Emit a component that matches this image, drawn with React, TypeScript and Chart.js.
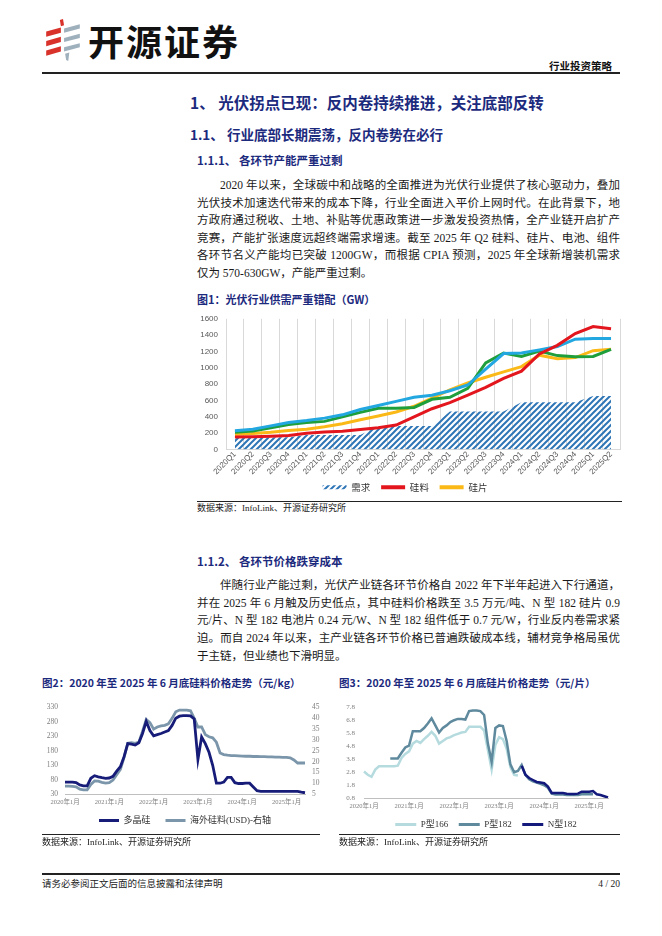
import React, { useEffect, useRef } from 'react';
import { Chart, registerables } from 'chart.js';

Chart.register(...registerables);

const SERIF = "'Liberation Serif','Noto Sans CJK SC',serif";
const CJK = "'Noto Sans CJK SC','Liberation Sans',sans-serif";
const SANS = "'Liberation Sans','Noto Sans CJK SC',sans-serif";
const NAVY = '#1c2a7e';

// ---------- Figure 1 data (GW) ----------
const quarters = [
  '2020Q1', '2020Q2', '2020Q3', '2020Q4', '2021Q1', '2021Q2', '2021Q3', '2021Q4',
  '2022Q1', '2022Q2', '2022Q3', '2022Q4', '2023Q1', '2023Q2', '2023Q3', '2023Q4',
  '2024Q1', '2024Q2', '2024Q3', '2024Q4', '2025Q1', '2025Q2',
];
const demand = [150, 150, 150, 150, 178, 178, 178, 178, 290, 290, 290, 290, 465, 465, 465, 465, 580, 580, 580, 580, 655, 655];
const polysilicon = [155, 157, 163, 172, 200, 215, 225, 245, 268, 300, 400, 500, 575, 665, 760, 870, 960, 1170, 1275, 1420, 1505, 1478];
const wafer = [185, 198, 212, 232, 250, 280, 315, 365, 410, 460, 530, 630, 730, 815, 885, 950, 1015, 1155, 1112, 1125, 1210, 1228];
const cell = [212, 228, 268, 308, 330, 345, 400, 455, 505, 505, 515, 615, 640, 750, 1060, 1182, 1140, 1205, 1150, 1135, 1140, 1225];
const moduleCap = [230, 250, 290, 330, 355, 385, 425, 490, 540, 590, 640, 665, 720, 790, 985, 1175, 1182, 1220, 1260, 1350, 1358, 1358];
const yTicks1 = { min: 0, max: 1600, step: 200 };

// ---------- Month categories for figures 2 & 3 ----------
const monthLabels: string[] = [];
for (let y = 2020; y <= 2025; y++) {
  for (let m = 1; m <= 12; m++) {
    if (y === 2025 && m > 6) break;
    monthLabels.push(`${y}年${m}月`);
  }
}

// ---------- Figure 2 data ----------
const polyPrice = [
  72, 72, 72, 70, 62, 59, 59, 85, 94, 90, 87, 85,
  86, 92, 110, 125, 160, 205, 203, 200, 208, 240, 282, 250,
  232, 236, 240, 245, 250, 268, 293, 300, 302, 302, 301, 290,
  150, 228, 205, 175, 130, 68, 68, 72, 88, 88, 70, 67,
  67, 68, 68, 55, 42, 40, 40, 40, 40, 40, 40, 40,
  40, 40, 40, 40, 37, 35,
];
const overseasPrice = [
  8.7, 8.7, 8.6, 8.4, 7.3, 7.0, 7.0, 9.5, 11.1, 11.0, 10.5, 10.1,
  10.3, 11.5, 14.0, 16.5, 22.0, 28.5, 28.8, 28.5, 29.0, 34.0, 39.5, 38.0,
  35.0, 36.0, 36.5, 36.8, 37.5, 40.0, 43.0, 43.8, 43.8, 43.8, 43.5, 40.0,
  36.0, 36.0, 32.5, 31.5, 31.0, 29.0, 24.0, 23.3, 23.0, 22.8, 22.8, 22.7,
  22.6, 22.5, 22.5, 22.4, 22.4, 22.3, 22.3, 22.2, 22.2, 22.1, 22.1, 22.0,
  22.0, 21.8, 20.8, 19.4, 19.4, 19.4,
];
const yTicks2L = { min: 30, max: 330, step: 50 };
const yTicks2R = { min: 5, max: 45, step: 5 };

// ---------- Figure 3 data ----------
const N = null;
const p166 = [
  2.85, 2.6, 2.45, 3.0, 3.25, 3.25, 3.25, 3.25, 3.25, 3.3, 3.9, 4.2,
  4.4, 5.0, 5.2, 5.05, 5.35, 5.6, 5.9, 5.6, 5.0, 5.2, 5.4, 5.5,
  5.65, 5.75, 5.85, 5.9, 6.3, 6.3, 6.3, 6.3, 6.0, 4.5, 3.0, 4.9,
  5.5, 5.35, 4.6, 3.2, 2.6, 2.55, N, N, N, N, N, N,
  N, N, N, N, N, N, N, N, N, N, N, N,
  N, N, N, N, N, N,
];
const p182 = [
  N, N, N, N, N, N, N, 3.85, 3.85, 3.85, 4.3, 4.7,
  4.85, 5.95, 5.95, 5.95, 6.2, 6.55, 6.95, 6.4, 5.85, 6.2, 6.4, 6.65,
  6.8, 6.9, 6.9, 6.85, 7.5, 7.55, 7.55, 7.5, 7.2, 5.0, 3.6, 6.2,
  6.4, 6.35, 5.2, 3.4, 2.8, 2.9, 3.35, 2.6, 2.25, 2.1, 2.0, 1.9,
  1.8, 1.6, 1.15, 1.08, 1.08, 1.08, 1.05, 1.05, 1.05, 1.05, 1.1, 1.1,
  1.1, 1.1, N, N, N, N,
];
const n182 = [
  N, N, N, N, N, N, N, N, N, N, N, N,
  N, N, N, N, N, N, N, N, N, N, N, N,
  N, N, N, N, N, N, N, N, N, N, N, N,
  N, N, N, N, N, N, 3.3, 2.6, 2.35, 2.2, 2.05, 2.0,
  1.95, 1.7, 1.2, 1.2, 1.2, 1.2, 1.15, 1.12, 1.12, 1.15, 1.3, 1.3,
  1.3, 1.35, 1.1, 1.05, 0.95, 0.85,
];
const yTicks3 = { min: 0.8, max: 7.8, step: 1 };

// ---------- Text ----------
const para1 = [
  '2020 年以来，全球碳中和战略的全面推进为光伏行业提供了核心驱动力，叠加',
  '光伏技术加速迭代带来的成本下降，行业全面进入平价上网时代。在此背景下，地',
  '方政府通过税收、土地、补贴等优惠政策进一步激发投资热情，全产业链开启扩产',
  '竞赛，产能扩张速度远超终端需求增速。截至 2025 年 Q2 硅料、硅片、电池、组件',
  '各环节名义产能均已突破 1200GW，而根据 CPIA 预测，2025 年全球新增装机需求',
  '仅为 570-630GW，产能严重过剩。',
];
const para2 = [
  '伴随行业产能过剩，光伏产业链各环节价格自 2022 年下半年起进入下行通道，',
  '并在 2025 年 6 月触及历史低点，其中硅料价格跌至 3.5 万元/吨、N 型 182 硅片 0.9',
  '元/片、N 型 182 电池片 0.24 元/W、N 型 182 组件低于 0.7 元/W，行业反内卷需求紧',
  '迫。而自 2024 年以来，主产业链各环节价格已普遍跌破成本线，辅材竞争格局虽优',
  '于主链，但业绩也下滑明显。',
];

function makeHatch(ctx: CanvasRenderingContext2D): CanvasPattern | string {
  const c = document.createElement('canvas');
  c.width = 6;
  c.height = 6;
  const g = c.getContext('2d');
  if (!g) return '#2e75b6';
  g.strokeStyle = '#2e75b6';
  g.lineWidth = 2;
  g.beginPath();
  g.moveTo(0, 6); g.lineTo(6, 0);
  g.moveTo(-3, 3); g.lineTo(3, -3);
  g.moveTo(3, 9); g.lineTo(9, 3);
  g.stroke();
  return ctx.createPattern(c, 'repeat') || '#2e75b6';
}

function lineLegendItems(chart: any, extra: string) {
  const ds = chart.data.datasets;
  return ds.map((d: any, i: number) => ({
    text: d.label + (i < ds.length - 1 ? extra : ''),
    fillStyle: d.borderColor,
    strokeStyle: d.borderColor,
    lineWidth: 0,
    hidden: false,
    datasetIndex: i,
    fontColor: '#333',
  }));
}

function Txt(props: { x: number; y: number; size: number; bold?: boolean; color?: string; w?: number; align?: any; family?: string; ls?: number; children: any }) {
  const lh = Math.round(props.size * 1.4);
  return (
    <div
      style={{
        position: 'absolute', left: props.x, top: props.y - lh / 2, width: props.w,
        lineHeight: lh + 'px', fontSize: props.size, fontWeight: props.bold ? 700 : 400,
        color: props.color || '#1a1a1a', whiteSpace: 'nowrap', textAlign: props.align || 'left',
        fontFamily: props.family || SERIF, letterSpacing: props.ls || 0,
      }}
    >
      {props.children}
    </div>
  );
}

function Para(props: { lines: string[]; y0: number; step: number }) {
  return (
    <>
      {props.lines.map((ln, i) => {
        const last = i === props.lines.length - 1;
        const indent = i === 0 ? 23 : 0;
        const lh = 16;
        return (
          <div
            key={i}
            style={{
              position: 'absolute', left: 197 + indent, top: props.y0 + i * props.step - lh / 2,
              width: 423 - indent, lineHeight: lh + 'px', fontSize: 11.5, color: '#1a1a1a',
              textAlign: last ? 'left' : 'justify', textAlignLast: last ? 'left' : 'justify',
              fontFamily: SERIF, whiteSpace: 'normal',
            } as any}
          >
            {ln}
          </div>
        );
      })}
    </>
  );
}

function HLine(props: { x: number; y: number; w: number; t?: number }) {
  return <div style={{ position: 'absolute', left: props.x, top: props.y, width: props.w, height: props.t || 1, background: '#222' }} />;
}

function Logo() {
  return (
    <svg width={38} height={42} viewBox="0 0 36 40" style={{ position: 'absolute', left: 44, top: 19 }}>
      <path d="M15 1 L18 0 L19 6 L16 7 Z" fill="#d9322b" />
      <polygon points="2,12 16,8 16,13 2,17" fill="#d9322b" />
      <polygon points="2,21 16,17 16,22 2,26" fill="#d9322b" />
      <polygon points="2,30 16,26 16,31 2,35" fill="#d9322b" />
      <polygon points="19,9 34,5 34,9 19,13" fill="#9fb0bd" />
      <polygon points="19,18 34,14 34,18 19,22" fill="#9fb0bd" />
      <polygon points="19,27 34,23 34,27 19,31" fill="#9fb0bd" />
      <path d="M20 33 L24 32 L23 40 L21 39 Z" fill="#9fb0bd" />
    </svg>
  );
}

export default function App() {
  const r1 = useRef<HTMLCanvasElement>(null);
  const r2 = useRef<HTMLCanvasElement>(null);
  const r3 = useRef<HTMLCanvasElement>(null);

  useEffect(() => {
    const charts: Chart[] = [];
    const RED = '#e3161d';
    const YELLOW = '#fbb917';
    const GREEN = '#1f9e3c';
    const BLUE = '#22a7e0';

    if (r1.current) {
      const ctx = r1.current.getContext('2d') as CanvasRenderingContext2D;
      const hatch = makeHatch(ctx);
      const lineDs = (label: string, data: number[], color: string, order: number) => ({
        label, data, borderColor: color, backgroundColor: color, borderWidth: 3,
        pointRadius: 0, fill: false, tension: 0, order,
      });
      charts.push(new Chart(ctx, {
        type: 'line',
        data: {
          labels: quarters,
          datasets: [
            { label: '需求', data: demand, fill: 'origin', backgroundColor: hatch as any, borderColor: 'rgba(0,0,0,0)', borderWidth: 0, pointRadius: 0, order: 9 },
            lineDs('硅料', polysilicon, RED, 1),
            lineDs('硅片', wafer, YELLOW, 4),
            lineDs('电池', cell, GREEN, 3),
            lineDs('组件', moduleCap, BLUE, 2),
          ],
        },
        options: {
          animation: false,
          responsive: false,
          events: [],
          layout: { padding: { top: 12, right: 10, left: 0, bottom: 0 } },
          plugins: {
            tooltip: { enabled: false },
            legend: {
              position: 'bottom',
              labels: {
                boxWidth: 24, boxHeight: 4, padding: 6, color: '#333',
                font: { size: 9.5, family: CJK },
                generateLabels: () => [
                  { text: '需求\u2002', fillStyle: hatch as any, strokeStyle: 'rgba(0,0,0,0)', lineWidth: 0, hidden: false, datasetIndex: 0, fontColor: '#333' },
                  { text: '硅料\u2002', fillStyle: RED, strokeStyle: RED, lineWidth: 0, hidden: false, datasetIndex: 1, fontColor: '#333' },
                  { text: '硅片', fillStyle: YELLOW, strokeStyle: YELLOW, lineWidth: 0, hidden: false, datasetIndex: 2, fontColor: '#333' },
                ] as any,
              },
            },
          },
          scales: {
            x: {
              offset: true,
              grid: { display: true, offset: true, color: '#d9d9d9', drawTicks: false },
              border: { display: true, color: '#d9d9d9' },
              ticks: { autoSkip: false, minRotation: 45, maxRotation: 45, padding: 0, color: '#595959', font: { size: 8, family: SANS } },
            },
            y: {
              min: yTicks1.min, max: yTicks1.max,
              grid: { display: false, drawTicks: false },
              border: { display: false },
              ticks: {
                stepSize: yTicks1.step, padding: 8, color: '#595959', font: { size: 8, family: SANS },
                callback: (v: any) => String(v),
              },
              afterFit: (s: any) => { s.width = 36; },
            },
          },
        } as any,
      }));
    }

    if (r2.current) {
      const ctx = r2.current.getContext('2d') as CanvasRenderingContext2D;
      charts.push(new Chart(ctx, {
        type: 'line',
        data: {
          labels: monthLabels,
          datasets: [
            { label: '多晶硅', data: polyPrice, borderColor: '#161c78', backgroundColor: '#161c78', borderWidth: 2.8, pointRadius: 0, yAxisID: 'y', tension: 0 },
            { label: '海外硅料(USD)-右轴', data: overseasPrice, borderColor: '#7b96aa', backgroundColor: '#7b96aa', borderWidth: 2.8, pointRadius: 0, yAxisID: 'y1', tension: 0 },
          ],
        },
        options: {
          animation: false,
          responsive: false,
          events: [],
          layout: { padding: { top: 8, right: 10, left: 0, bottom: 0 } },
          plugins: {
            tooltip: { enabled: false },
            legend: {
              position: 'bottom',
              fullSize: false,
              labels: {
                boxWidth: 20, boxHeight: 3, padding: 6, color: '#333',
                font: { size: 9, family: SERIF },
                generateLabels: (c: any) => lineLegendItems(c, '\u3000'),
              },
            },
          },
          scales: {
            x: {
              offset: false,
              grid: { display: false, drawTicks: false },
              border: { display: true, color: '#bfbfbf' },
              ticks: {
                autoSkip: false, maxRotation: 0, minRotation: 0, padding: 4, color: '#7f7f7f',
                font: { size: 6.5, family: SERIF },
                callback: (_v: any, i: number) => (monthLabels[i].endsWith('年1月') ? monthLabels[i] : null),
              },
            },
            y: {
              position: 'left', min: yTicks2L.min, max: yTicks2L.max,
              grid: { display: false, drawTicks: false }, border: { display: false },
              ticks: { autoSkip: false, stepSize: yTicks2L.step, padding: 7, color: '#7f7f7f', font: { size: 7.5, family: SERIF } },
              afterFit: (s: any) => { s.width = 35; },
            },
            y1: {
              position: 'right', min: yTicks2R.min, max: yTicks2R.max,
              grid: { display: false, drawTicks: false }, border: { display: false },
              ticks: { autoSkip: false, stepSize: yTicks2R.step, padding: 7, color: '#7f7f7f', font: { size: 7.5, family: SERIF } },
              afterFit: (s: any) => { s.width = 19; },
            },
          },
        } as any,
      }));
    }

    if (r3.current) {
      const ctx = r3.current.getContext('2d') as CanvasRenderingContext2D;
      charts.push(new Chart(ctx, {
        type: 'line',
        data: {
          labels: monthLabels,
          datasets: [
            { label: 'P型166', data: p166, borderColor: '#b5dbdf', backgroundColor: '#b5dbdf', borderWidth: 2.5, pointRadius: 0, tension: 0, spanGaps: false, order: 3 },
            { label: 'P型182', data: p182, borderColor: '#5f8a9e', backgroundColor: '#5f8a9e', borderWidth: 2.5, pointRadius: 0, tension: 0, spanGaps: false, order: 2 },
            { label: 'N型182', data: n182, borderColor: '#14197c', backgroundColor: '#14197c', borderWidth: 2.5, pointRadius: 0, tension: 0, spanGaps: false, order: 1 },
          ],
        },
        options: {
          animation: false,
          responsive: false,
          events: [],
          layout: { padding: { top: 8, right: 4, left: 0, bottom: 0 } },
          plugins: {
            tooltip: { enabled: false },
            legend: {
              position: 'bottom',
              fullSize: false,
              labels: {
                boxWidth: 21, boxHeight: 3, padding: 6, color: '#333',
                font: { size: 9, family: SERIF },
                generateLabels: (c: any) => lineLegendItems(c, '\u2002'),
              },
            },
          },
          scales: {
            x: {
              offset: false,
              grid: { display: false, drawTicks: false },
              border: { display: true, color: '#bfbfbf' },
              ticks: {
                autoSkip: false, maxRotation: 0, minRotation: 0, padding: 4, color: '#7f7f7f',
                font: { size: 6.5, family: SERIF },
                callback: (_v: any, i: number) => (monthLabels[i].endsWith('年1月') ? monthLabels[i] : null),
              },
            },
            y: {
              min: yTicks3.min, max: yTicks3.max,
              grid: { display: false, drawTicks: false }, border: { display: false },
              ticks: {
                autoSkip: false, stepSize: yTicks3.step, padding: 9, color: '#7f7f7f', font: { size: 7, family: SERIF },
                callback: (v: any) => Number(v).toFixed(1),
              },
              afterFit: (s: any) => { s.width = 30; },
            },
          },
        } as any,
      }));
    }

    return () => { charts.forEach((c) => c.destroy()); };
  }, []);

  return (
    <div style={{ position: 'absolute', left: 0, top: 0, width: 662, height: 936, background: '#fff', overflow: 'hidden', fontFamily: SERIF }}>
      <Logo />
      <Txt x={88} y={40} size={36} bold family={CJK} color="#111" ls={2}>开源证券</Txt>
      <Txt x={500} y={65} size={10.5} bold w={112} align="right" family={CJK} color="#111">行业投资策略</Txt>
      <HLine x={42} y={72} w={578} t={1.5} />

      <Txt x={190} y={102} size={15.5} bold color={NAVY} family={CJK}>1、 光伏拐点已现：反内卷持续推进，关注底部反转</Txt>
      <Txt x={190} y={134} size={13.5} bold color={NAVY} family={CJK}>1.1、 行业底部长期震荡，反内卷势在必行</Txt>
      <Txt x={197} y={160} size={11.5} bold color={NAVY} family={CJK}>1.1.1、 各环节产能严重过剩</Txt>
      <Para lines={para1} y0={185} step={17.6} />

      <Txt x={197} y={299} size={11} bold color={NAVY} family={CJK}>图1：光伏行业供需严重错配（GW）</Txt>
      <canvas ref={r1} width={440} height={196} style={{ position: 'absolute', left: 190, top: 306 }} />
      <HLine x={197} y={501} w={425} />
      <Txt x={197} y={508} size={9} family={SERIF} color="#222">数据来源：InfoLink、开源证券研究所</Txt>

      <Txt x={197} y={561} size={11.5} bold color={NAVY} family={CJK}>1.1.2、 各环节价格跌穿成本</Txt>
      <Para lines={para2} y0={585} step={17.7} />

      <Txt x={42} y={682} size={10.5} bold color={NAVY} family={CJK}>图2：2020 年至 2025 年 6 月底硅料价格走势（元/kg）</Txt>
      <Txt x={339} y={682} size={10.5} bold color={NAVY} family={CJK}>图3：2020 年至 2025 年 6 月底硅片价格走势（元/片）</Txt>
      <canvas ref={r2} width={304} height={139} style={{ position: 'absolute', left: 30, top: 696 }} />
      <canvas ref={r3} width={278} height={145} style={{ position: 'absolute', left: 334, top: 694 }} />
      <HLine x={42} y={834} w={278} />
      <HLine x={339} y={834} w={281} />
      <Txt x={42} y={842} size={9} color="#222">数据来源：InfoLink、开源证券研究所</Txt>
      <Txt x={339} y={842} size={9} color="#222">数据来源：InfoLink、开源证券研究所</Txt>

      <HLine x={42} y={873} w={578} t={1.5} />
      <Txt x={42} y={884} size={9.5} color="#222">请务必参阅正文后面的信息披露和法律声明</Txt>
      <Txt x={520} y={884} size={9.5} w={100} align="right" color="#222">4 / 20</Txt>
    </div>
  );
}
